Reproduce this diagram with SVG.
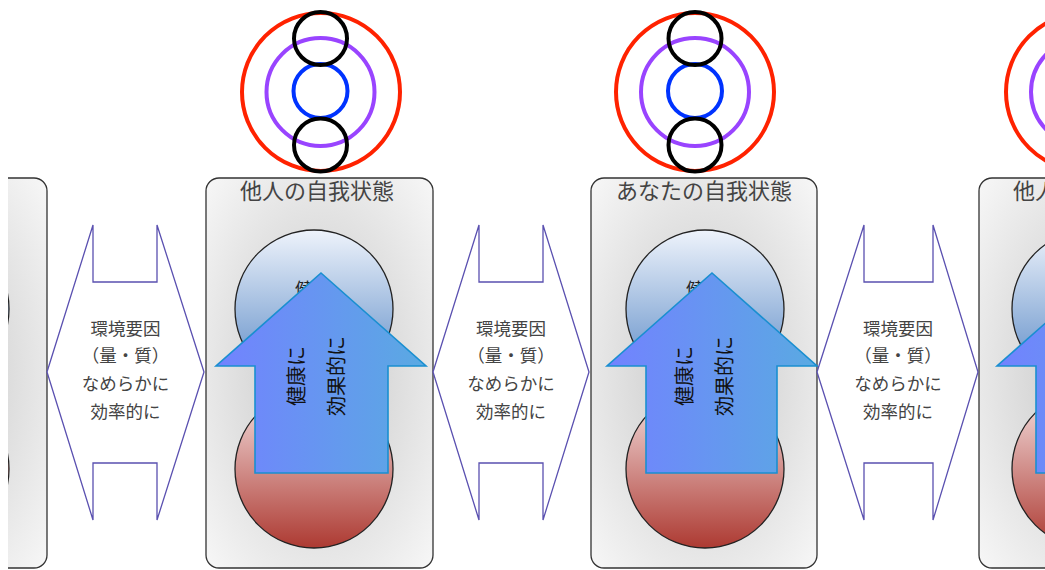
<svg xmlns="http://www.w3.org/2000/svg" width="1045" height="570" viewBox="0 0 1045 570">
<defs>
<radialGradient id="gPanel" cx="0.5" cy="0.5" r="0.72">
<stop offset="0" stop-color="#c6c6c6"/>
<stop offset="1" stop-color="#f8f8f8"/>
</radialGradient>
<linearGradient id="gBlue" x1="0" y1="0" x2="0" y2="1">
<stop offset="0" stop-color="#eef3fb"/>
<stop offset="1" stop-color="#5586c4"/>
</linearGradient>
<linearGradient id="gRed" x1="0" y1="0" x2="0" y2="1">
<stop offset="0" stop-color="#f5e2e2"/>
<stop offset="1" stop-color="#ad3a32"/>
</linearGradient>
<linearGradient id="gArrow" x1="0" y1="0" x2="1" y2="0">
<stop offset="0" stop-color="#7282ff"/>
<stop offset="1" stop-color="#5aaae2"/>
</linearGradient>
<clipPath id="clipView"><rect x="8" y="0" width="1037" height="570"/></clipPath>
<style>
.panel{fill:url(#gPanel);stroke:#333;stroke-width:1.3}
.title{font-family:"Noto Sans CJK JP","Noto Sans",sans-serif;font-size:22px;fill:#444;text-anchor:middle}
.cb{fill:url(#gBlue);stroke:#222;stroke-width:1.3}
.cr{fill:url(#gRed);stroke:#222;stroke-width:1.3}
.ctext{font-family:"Noto Sans CJK JP",sans-serif;font-size:18px;fill:#222;text-anchor:middle}
.up{fill:url(#gArrow);stroke:#1a8fd0;stroke-width:1.6}
.uptext{font-family:"Noto Sans CJK JP",sans-serif;font-size:20px;fill:#111;text-anchor:middle}
.dbl{fill:#fff;stroke:#5a50b0;stroke-width:1.3}
.dtext{font-family:"Noto Sans CJK JP",sans-serif;font-size:17.5px;fill:#444;text-anchor:middle}
.ring{fill:none;stroke-width:4}
</style>
</defs>
<rect width="1045" height="570" fill="#fff"/>
<g clip-path="url(#clipView)">
<!-- panels -->
<g id="panel1">
<rect class="panel" x="-180" y="178" width="227" height="390" rx="13"/>
<circle class="cb" cx="-70" cy="309" r="79"/>
<circle class="cr" cx="-70" cy="469" r="79"/>
</g>
<g id="panel2">
<rect class="panel" x="206" y="178" width="227" height="390" rx="13"/>
<text class="title" x="317" y="199">他人の自我状態</text>
<circle class="cb" cx="314" cy="309" r="79"/>
<text class="ctext" x="313" y="296">健康</text>
<circle class="cr" cx="314" cy="469" r="79"/>
<polygon class="up" points="321,273 426,366 388,366 388,473 255,473 255,366 216,366"/>
<text class="uptext" transform="translate(317,376) rotate(-90)"><tspan x="0" y="-13">健康に</tspan><tspan x="0" y="27">効果的に</tspan></text>
</g>
<g id="panel3">
<rect class="panel" x="591" y="178" width="226" height="390" rx="13"/>
<text class="title" x="704" y="199">あなたの自我状態</text>
<circle class="cb" cx="705" cy="309" r="79"/>
<text class="ctext" x="704" y="296">健康</text>
<circle class="cr" cx="705" cy="469" r="79"/>
<polygon class="up" points="712,273 817,366 777,366 777,473 646,473 646,366 607,366"/>
<text class="uptext" transform="translate(705,376) rotate(-90)"><tspan x="0" y="-13">健康に</tspan><tspan x="0" y="27">効果的に</tspan></text>
</g>
<g id="panel4">
<rect class="panel" x="979" y="178" width="227" height="390" rx="13"/>
<text class="title" x="1090" y="199">他人の自我状態</text>
<circle class="cb" cx="1091" cy="309" r="79"/>
<text class="ctext" x="1090" y="296">健康</text>
<circle class="cr" cx="1091" cy="469" r="79"/>
<polygon class="up" points="1102,273 1207,366 1168,366 1168,473 1036,473 1036,366 997,366"/>
<text class="uptext" transform="translate(1098,376) rotate(-90)"><tspan x="0" y="-13">健康に</tspan><tspan x="0" y="27">効果的に</tspan></text>
</g>
<!-- top symbols -->
<g id="symbol2">
<circle class="ring" cx="321" cy="92" r="79" stroke="#ff2200"/>
<circle class="ring" cx="320.5" cy="92" r="54" stroke="#9944ff"/>
<circle class="ring" cx="320.5" cy="91" r="27" stroke="#0033ff"/>
<circle class="ring" cx="320.5" cy="38.5" r="26.5" stroke="#000"/>
<circle class="ring" cx="320.5" cy="145" r="26.5" stroke="#000"/>
</g>
<g id="symbol3">
<circle class="ring" cx="695" cy="92" r="79" stroke="#ff2200"/>
<circle class="ring" cx="695" cy="92" r="54" stroke="#9944ff"/>
<circle class="ring" cx="695" cy="91" r="27" stroke="#0033ff"/>
<circle class="ring" cx="695" cy="38.5" r="26.5" stroke="#000"/>
<circle class="ring" cx="695" cy="145" r="26.5" stroke="#000"/>
</g>
<g id="symbol4">
<circle class="ring" cx="1085" cy="92" r="79" stroke="#ff2200"/>
<circle class="ring" cx="1085" cy="92" r="54" stroke="#9944ff"/>
<circle class="ring" cx="1085" cy="91" r="27" stroke="#0033ff"/>
<circle class="ring" cx="1085" cy="38.5" r="26.5" stroke="#000"/>
<circle class="ring" cx="1085" cy="145" r="26.5" stroke="#000"/>
</g>
<!-- connectors: environment double arrows -->
<g id="connectors">
<g id="env1">
<polygon class="dbl" points="47,372 93,225 93,282 157,282 157,225 204,372 157,520 157,463 93,463 93,520"/>
<text class="dtext"><tspan x="125.5" y="335">環境要因</tspan><tspan x="125.5" y="362">（量・質）</tspan><tspan x="125.5" y="390">なめらかに</tspan><tspan x="125.5" y="418">効率的に</tspan></text>
</g>
<g id="env2">
<polygon class="dbl" points="433,372 479,225 479,282 543,282 543,225 589,372 543,520 543,463 479,463 479,520"/>
<text class="dtext"><tspan x="511" y="335">環境要因</tspan><tspan x="511" y="362">（量・質）</tspan><tspan x="511" y="390">なめらかに</tspan><tspan x="511" y="418">効率的に</tspan></text>
</g>
<g id="env3">
<polygon class="dbl" points="817,372 864,225 864,282 933,282 933,225 978,372 933,520 933,463 864,463 864,520"/>
<text class="dtext"><tspan x="898" y="335">環境要因</tspan><tspan x="898" y="362">（量・質）</tspan><tspan x="898" y="390">なめらかに</tspan><tspan x="898" y="418">効率的に</tspan></text>
</g>
</g>
</g>
</svg>
